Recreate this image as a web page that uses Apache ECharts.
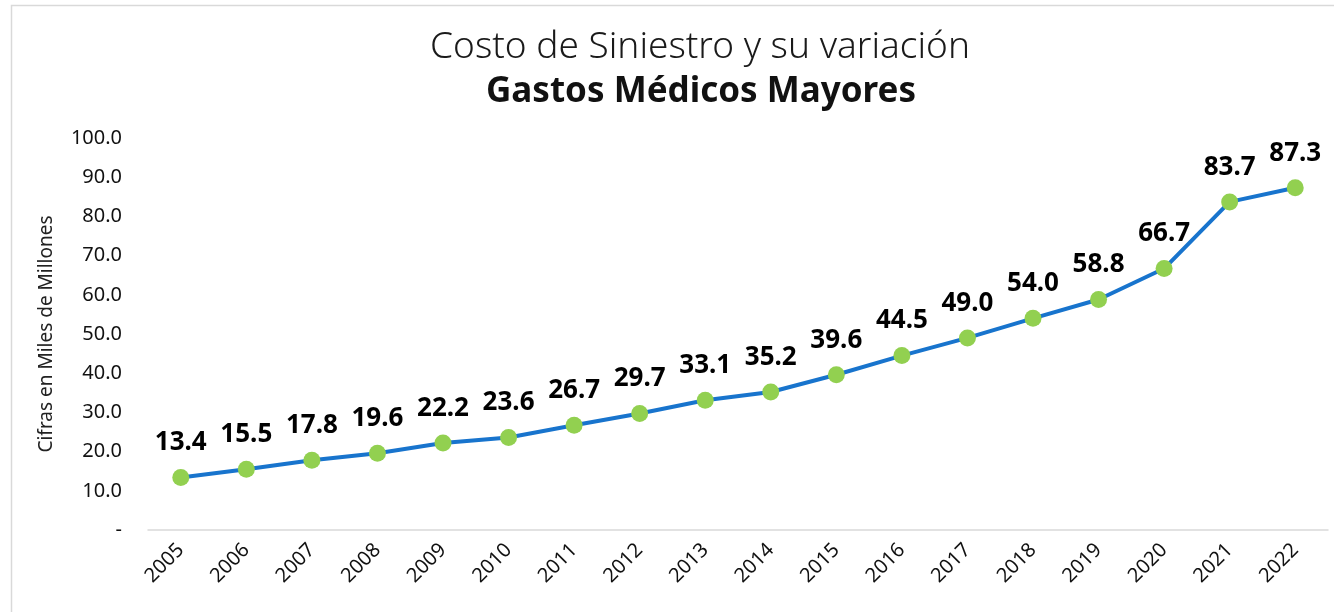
<!DOCTYPE html>
<html>
<head>
<meta charset="utf-8">
<script src="https://cdn.jsdelivr.net/npm/echarts@6/dist/echarts.min.js"></script>
<style>
  html, body { margin: 0; padding: 0; background: #fff; }
  #chart { width: 1334px; height: 612px; }
</style>
</head>
<body>
<div id="chart"></div>
<script>
const years = ["2005", "2006", "2007", "2008", "2009", "2010", "2011", "2012", "2013",
    "2014", "2015", "2016", "2017", "2018", "2019", "2020", "2021", "2022"];
const costoSiniestro = [13.4, 15.5, 17.8, 19.6, 22.2, 23.6, 26.7, 29.7, 33.1,
    35.2, 39.6, 44.5, 49.0, 54.0, 58.8, 66.7, 83.7, 87.3];

const fontFamily = "'Noto Sans', 'DejaVu Sans', sans-serif";
const chart = echarts.init(document.getElementById("chart"));
chart.setOption({
    animation: false,
    graphic: [{
        type: "rect",
        shape: { x: 11.5, y: 5.5, width: 1400, height: 700 },
        style: { fill: "none", stroke: "#d9d9d9", lineWidth: 1.5 },
        silent: true
    }, {
        // title lines, centred on the plot rather than the page
        type: "text",
        x: 700,
        y: 47,
        style: {
            text: "Costo de Siniestro y su variación",
            fontFamily, fontSize: 37, fontWeight: 300, fill: "#1a1a1a",
            align: "center", verticalAlign: "middle"
        }
    }, {
        type: "text",
        x: 701,
        y: 92,
        style: {
            text: "Gastos Médicos Mayores",
            fontFamily, fontSize: 35, fontWeight: "bold", fill: "#111",
            align: "center", verticalAlign: "middle"
        }
    }],
    grid: { left: 148, right: 6, top: 138, bottom: 82 },
    xAxis: {
        type: "category",
        data: years,
        axisLine: { lineStyle: { color: "#d9d9d9", width: 1.5 } },
        axisTick: { show: false },
        axisLabel: {
            rotate: 45,
            margin: 17,
            fontFamily,
            fontSize: 20,
            color: "#111"
        }
    },
    yAxis: {
        type: "value",
        min: 0,
        max: 100,
        interval: 10,
        name: "Cifras en Miles de Millones",
        nameLocation: "middle",
        nameGap: 92,
        nameTextStyle: { fontFamily, fontSize: 19, color: "#222" },
        splitLine: { show: false },
        axisLine: { show: false },
        axisTick: { show: false },
        axisLabel: {
            margin: 26,
            fontFamily,
            fontSize: 20,
            color: "#111",
            formatter: (v) => (v === 0 ? "-" : v.toFixed(1))
        }
    },
    series: [{
        type: "line",
        data: costoSiniestro,
        symbol: "circle",
        symbolSize: 17,
        lineStyle: { color: "#1874cd", width: 4 },
        itemStyle: { color: "#92d050" },
        label: {
            show: true,
            position: "top",
            distance: 13,
            fontFamily,
            fontSize: 26,
            fontWeight: "bold",
            color: "#000",
            formatter: (p) => p.value.toFixed(1)
        }
    }]
});
</script>
</body>
</html>
